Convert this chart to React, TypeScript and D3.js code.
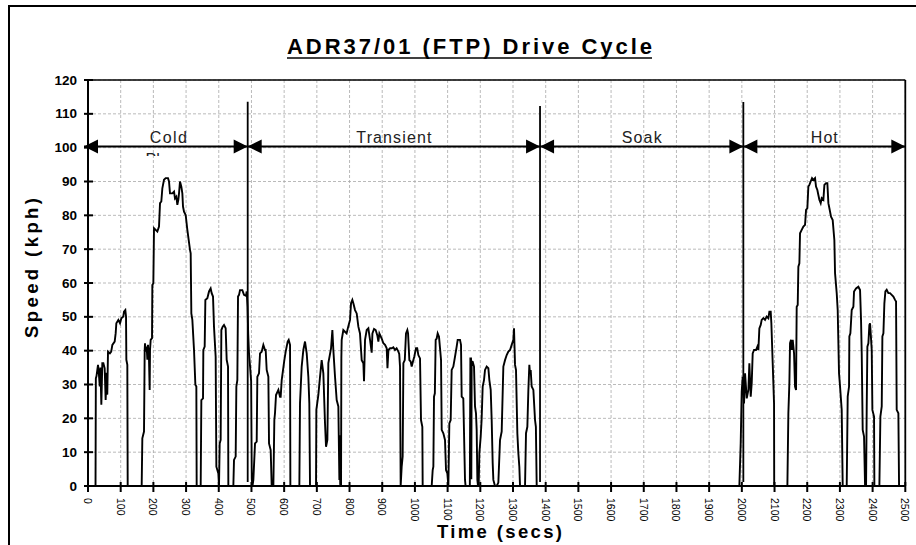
import React from "react";
import * as d3 from "d3";

// ---- data: [time (s), speed (kph)] ----
const coldPhase: [number, number][] = [
  [0, 0], [23, 0], [24, 31.8], [26, 32.5], [30.6, 35.8], [33, 33.5], [36, 29.4], [38, 35], [40.8, 24],
  [43.8, 36.3], [47, 36.3], [51, 34.8], [54, 25.4], [57, 33.5], [59, 27], [61.2, 39.7], [67, 39.2],
  [71, 39.7], [74.5, 41.7], [81.6, 42.7], [84.6, 45.1], [86.7, 48.1], [92.8, 49.1], [97.9, 48.1],
  [102, 49.6], [108, 50.1], [110.1, 51.5], [114.2, 52], [116.3, 50.1], [117.3, 37.3], [120.3, 35.8],
  [121.4, 0],
  [164.2, 0], [166.2, 14.1], [171.3, 16.1], [173.4, 40.2], [174.4, 42.2], [176.4, 39.7], [179.5, 41.2],
  [181.5, 37.3], [183.5, 41.7], [186.6, 37.3], [188.6, 28.4], [189.7, 40.2], [191.7, 43.2], [195.8, 43.7],
  [196.8, 59.4], [199.9, 59.9], [201.9, 76.2], [207, 75.7], [212.1, 75.2], [217.2, 76.7], [220.3, 83.6],
  [224.3, 84.1], [227.4, 88], [232.5, 90.5], [237.6, 91], [244.7, 91], [247.8, 90], [250.8, 86.5],
  [258, 86.5], [263.1, 87], [266.1, 85], [270.2, 85.5], [273.3, 83.1], [276.3, 84.6], [278.4, 86.5],
  [281.4, 90], [285.5, 88.5], [288.6, 86.5], [290.6, 82.6], [293.7, 81.1], [298.8, 80.1], [303.9, 75.7],
  [312, 69.8], [314.1, 68.8], [316.1, 51], [319.2, 49.1], [324.3, 40.2], [328.4, 29.9], [331.4, 29.4],
  [332.4, 0],
  [344.7, 0], [346.7, 25.4], [351.8, 25.9], [352.8, 40.2], [356.9, 41.2], [359, 55], [365.1, 55.5],
  [370.2, 57.5], [375.2, 58.4], [378.3, 57], [382.4, 56], [385.4, 47.1], [390.5, 38.2], [392.6, 5.7],
  [398.7, 3.7], [400.7, 0],
  [402.8, 12.6], [405.8, 13.6], [407.9, 46.1], [412, 47.1], [416, 47.6], [421.1, 46.6], [424.2, 37.3],
  [428.3, 35.3], [429.3, 0],
  [444.6, 0], [446.6, 7.7], [451.7, 8.7], [453.8, 29.4], [456.8, 31.3], [458.9, 56], [462, 56.5],
  [465, 57.9], [472.1, 57.9], [477.2, 56.5], [483.3, 56.2], [485.4, 57.5], [488, 53], [490, 45],
  [492.5, 39.2], [496, 35], [499, 31], [501, 2], [503, 0],
];

const transientPhase: [number, number][] = [
  [503, 0], [505.8, 1.8], [510.9, 12.6], [516, 13.1], [518, 32.3], [523.1, 33.3], [526.2, 39.2],
  [531.3, 39.7], [536.4, 41.7], [541.5, 40.2], [543.5, 40.2], [546.6, 34.3], [551.7, 32.3],
  [553.7, 12.6], [558.8, 10.6], [561.9, 0],
  [567, 0], [570, 19.5], [572, 21.5], [575.1, 26.9], [582.3, 28.4], [587.4, 26.4], [589.4, 26.4],
  [592.5, 31.3], [600.6, 37.2], [604.7, 39.7], [610.8, 42.7], [613.9, 43.2], [618, 41.7], [619, 0],
  [646.5, 0], [648.5, 24.5], [653.6, 35.3], [658.7, 40.2], [663.8, 42.7], [669, 39.2], [674, 32.3],
  [677, 24.5], [679.1, 0],
  [697.5, 0], [698.5, 22.5], [704.6, 26.9], [709.7, 32.3], [714.8, 37.2], [719.9, 33.3], [725, 18.5],
  [728.1, 11.6], [732.2, 13.6], [735.2, 36.3], [743.4, 40.7], [747.5, 46.1], [750.5, 40.2],
  [755.6, 32.3], [760.7, 25.4], [765.8, 23.5], [768.9, 1.8], [770.5, 15], [771.5, 0.5], [774, 0],
  [775, 38], [776, 43.2], [781, 46.1], [786, 45.6], [791, 45.1], [796, 47.1], [801.5, 49.1],
  [804.6, 54], [808.6, 55], [811.7, 54], [816.8, 52], [821.9, 51], [827, 47.1], [832, 45.1],
  [837.2, 37.2], [842.3, 36.3], [844.3, 31], [847.4, 43.2], [852.5, 46.1], [857.6, 46.6],
  [862.7, 43.2], [867.8, 39.4], [870, 45.1], [875, 46.4], [880, 46.1], [885, 44.5], [888.2, 42.7],
  [891.3, 45.1], [898.4, 43.6], [903.5, 42.2], [908.6, 41.7], [913.7, 40.7], [916, 34.8], [919, 40.2],
  [924, 40.7], [929, 40.7], [934, 41], [939, 40.2], [944, 40.7], [949.4, 39.7], [952, 39],
  [954.4, 35.3], [956.4, 0],
  [959.5, 5.7], [962.5, 8.7], [964.7, 36.3], [969, 37.2], [972.7, 45.1], [976.8, 46.1], [979, 45.1],
  [983, 37.2], [987, 36.8], [990.1, 35.3], [994, 36.8], [998, 38.2], [1003.3, 40.7], [1007, 40.7],
  [1010.5, 38.7], [1015.6, 37.7], [1018.6, 19.5], [1022.7, 17.5], [1023.7, 0],
  [1051.3, 0], [1054.3, 4.7], [1056.4, 5.7], [1058.4, 26.4], [1061, 27.4], [1063.5, 43.2],
  [1066.6, 43.6], [1069.6, 45.1], [1073.7, 44.1], [1076.8, 40.7], [1079.9, 37.2], [1081.9, 16.6],
  [1087, 15.6], [1092, 13.6], [1095.1, 4.7], [1099.2, 3.7], [1102.3, 0],
  [1105.3, 18.5], [1109.4, 19.5], [1112.4, 34.3], [1117.5, 35.3], [1122.6, 38.2], [1127.7, 41.2],
  [1130.8, 43.2], [1137.9, 43.2], [1141, 41.7], [1143, 26.4], [1148, 25.9], [1153.2, 1.8], [1155, 0],
  [1168, 0], [1169.6, 37.7], [1171.6, 37.7], [1172.5, 2], [1173.6, 36.8], [1176.7, 36.7],
  [1180.8, 35.3], [1183.8, 23.5], [1186.8, 21.5], [1188.9, 16.6], [1191, 1.8], [1193, 0],
  [1195, 0], [1197.1, 9.7], [1201.2, 14.6], [1204, 19.5], [1207.3, 29.4], [1211.3, 31.3],
  [1214.4, 34.3], [1219.5, 35.3], [1224.6, 34.8], [1227.7, 31.3], [1231.8, 28.4], [1234.8, 19.5],
  [1237.9, 6.7], [1239.9, 1.8], [1245, 0],
  [1250.1, 0], [1255.2, 1], [1260.3, 13.6], [1265.4, 16.1], [1270.5, 35.3], [1275.6, 37.2],
  [1280.7, 38.7], [1285.8, 39.7], [1291, 40.2], [1296, 41.7], [1301.1, 43.2], [1303.1, 46.6],
  [1306.2, 35.8], [1309.2, 34.3], [1313.3, 15.6], [1316.4, 9.7], [1319.4, 5.7], [1321.5, 0],
  [1336.8, 0], [1339.8, 15.6], [1343.9, 17.5], [1347, 28.4], [1350, 35.8], [1352, 33.3],
  [1354.1, 34.3], [1357.2, 29.4], [1362.3, 28.4], [1367.4, 19.5], [1370, 17.5], [1372.5, 0],
];

const soakPhase: [number, number][] = [[1372.5, 0], [1992.4, 0]];

const hotPhase: [number, number][] = [
  [1992.4, 0], [1996.5, 12.6], [1999.6, 27.9], [2002.6, 32.3], [2006.7, 24.4], [2009.8, 33.3],
  [2015, 25.9], [2020, 28.4], [2023, 36.3], [2027.1, 26.4], [2030.2, 30.4], [2033.2, 39.2],
  [2037.3, 40.2], [2043.4, 40.2], [2047.5, 41.2], [2050.6, 40.2], [2053.6, 46.6], [2057.7, 47.6],
  [2060.7, 49.1], [2065.8, 49.6], [2070.9, 49.1], [2076, 50.1], [2081.1, 49.6], [2084.2, 51.5],
  [2088.3, 51.5], [2090.3, 48.1], [2094.4, 36.3], [2098.5, 24.4], [2099, 0],
  [2139.3, 0], [2142.3, 21.5], [2145.4, 30.4], [2147.4, 42.2], [2150.5, 43.2], [2152.5, 40.2],
  [2155.6, 43.2], [2159.7, 39.2], [2162.7, 29.4], [2165.8, 28.4], [2166.5, 37.3], [2167.8, 53],
  [2170.9, 53.5], [2172.9, 64.8], [2176, 65.8], [2178, 74.7], [2183.1, 75.7], [2188.2, 76.7],
  [2193.3, 77.2], [2196.4, 81.6], [2200.4, 82.1], [2203.5, 88.5], [2206.6, 89], [2210.6, 90],
  [2214.7, 91], [2218.8, 90.5], [2223.9, 91], [2226.9, 88.5], [2231, 87.5], [2234.1, 86],
  [2237.1, 84.6], [2241.2, 83.6], [2244.3, 85.1], [2249.4, 84.6], [2252.5, 89], [2257.5, 89.5],
  [2261.6, 89.5], [2264.7, 83.6], [2267.8, 82.1], [2272.8, 79.6], [2277.9, 78.6], [2283, 72.7],
  [2285.1, 62.9], [2290.2, 57], [2293.2, 52], [2297.3, 33.3], [2300.4, 29.4], [2305.5, 22.5],
  [2308.5, 0],
  [2320.8, 0], [2323.8, 26.4], [2327.9, 29.4], [2328.9, 44.2], [2332, 45.1], [2336.1, 52],
  [2341.2, 53], [2343.2, 57.5], [2349.3, 58.4], [2356.4, 58.9], [2361.6, 57.9], [2364.6, 49.1],
  [2366.7, 39.2], [2369.7, 16.6], [2373.8, 14.6], [2376.9, 0],
  [2380, 0], [2382, 23.5], [2384, 41.2], [2387.1, 42.2], [2390.1, 47.6], [2392.2, 48.1],
  [2394.2, 45.1], [2397.3, 40.2], [2399.3, 22.5], [2404.4, 20.5], [2405.4, 0],
  [2420.7, 0], [2423.8, 20.5], [2427.9, 23.5], [2429.9, 44.2], [2433, 45.1], [2436, 54],
  [2439.1, 57.5], [2443.1, 58], [2448.2, 57], [2453.3, 57], [2458.4, 56.5], [2463.5, 56],
  [2468.6, 55], [2471.7, 54.5], [2473.7, 22.5], [2478.8, 21.5], [2480.9, 0],
];

const xTickValues = [0, 100, 200, 300, 400, 500, 600, 700, 800, 900, 1000, 1100, 1200, 1300, 1400,
  1500, 1600, 1700, 1800, 1900, 2000, 2100, 2200, 2300, 2400, 2500];
const yTickValues = [0, 10, 20, 30, 40, 50, 60, 70, 80, 90, 100, 110, 120];

const phaseNames = ["Cold", "Transient", "Soak", "Hot"];
const phaseBounds = [0, 488.5, 1382.7, 2004.6, 2500];
const separatorTops = [101.7, 106, 102];
const phaseLabelWidths = [37, 75, 40, 27];

const title = "ADR37/01 (FTP) Drive Cycle";
const xLabel = "Time (secs)";
const yLabel = "Speed (kph)";

const W = 916;
const H = 545;
const FONT = "'Liberation Sans', Arial, sans-serif";

export default function App() {
  const x = d3.scaleLinear().domain([0, 2500]).range([88, 905.3]);
  const y = d3.scaleLinear().domain([0, 120]).range([486, 80]);
  const line = d3
    .line<[number, number]>()
    .x((d) => x(d[0]))
    .y((d) => y(d[1]));
  const allData = [...coldPhase, ...transientPhase.slice(1), ...soakPhase.slice(1), ...hotPhase.slice(1)];

  const arrowY = 146.5;
  const head = (tipX: number, dir: number) =>
    `M${tipX},${arrowY} L${tipX - dir * 14},${arrowY - 7} L${tipX - dir * 14},${arrowY + 7} Z`;

  return (
    <div style={{ position: "absolute", left: 0, top: 0 }}>
      <svg width={W} height={H} style={{ display: "block", background: "#fff" }} fontFamily={FONT}>
        <defs>
          <clipPath id="phaseClip">
            <rect x={130} y={151} width={80} height={5} />
          </clipPath>
        </defs>
        {/* outer chart border */}
        <rect x={9} y={6} width={1000} height={1000} fill="none" stroke="#000" strokeWidth={2} />

        {/* title */}
        <text x={469.5} y={54} textAnchor="middle" fontSize={22} fontWeight="bold" textLength={365}
          lengthAdjust="spacing">{title}</text>
        <line x1={287} x2={652} y1={58} y2={58} stroke="#000" strokeWidth={1.6} />

        {/* grid */}
        {xTickValues.map((t) => (
          <line key={"gx" + t} x1={x(t)} x2={x(t)} y1={y(120)} y2={y(0)} stroke="#a8a8a8"
            strokeWidth={0.8} strokeDasharray="3,2" />
        ))}
        {yTickValues.map((v) => (
          <line key={"gy" + v} x1={x(0)} x2={x(2500)} y1={y(v)} y2={y(v)} stroke="#a8a8a8"
            strokeWidth={0.8} strokeDasharray="3,2" />
        ))}

        {/* plot border top/right */}
        <line x1={x(0)} x2={x(2500)} y1={y(120)} y2={y(120)} stroke="#000" strokeWidth={1.6} />
        <line x1={x(2500)} x2={x(2500)} y1={y(120)} y2={y(0)} stroke="#000" strokeWidth={1.8} />

        {/* data */}
        <path d={line(allData) || ""} fill="none" stroke="#000" strokeWidth={1.9} />

        {/* phase separators */}
        {phaseBounds.slice(1, 4).map((b, i) => (
          <line key={"sep" + i} x1={x(b)} x2={x(b)} y1={separatorTops[i]} y2={482} stroke="#000"
            strokeWidth={1.8} />
        ))}

        {/* phase arrows */}
        {phaseNames.map((name, i) => {
          const x0 = i === 0 ? x(phaseBounds[0]) - 4 : x(phaseBounds[i]);
          const x1 = x(phaseBounds[i + 1]);
          return (
            <g key={"ph" + name}>
              <line x1={x0} x2={x1} y1={arrowY} y2={arrowY} stroke="#000" strokeWidth={2} />
              <path d={head(x0, -1)} fill="#000" />
              <path d={head(x1, 1)} fill="#000" />
            </g>
          );
        })}
        {phaseNames.map((name, i) => {
          const cx = i === 0 ? 168.3 : (x(phaseBounds[i]) + x(phaseBounds[i + 1])) / 2;
          return (
            <text key={"pl" + name} x={cx} y={143} textAnchor="middle" fontSize={16} fill="#222"
              textLength={phaseLabelWidths[i]} lengthAdjust="spacing">{name}</text>
          );
        })}
        <text x={168.3} y={165} textAnchor="middle" fontSize={16} fill="#222" clipPath="url(#phaseClip)">
          Phase
        </text>

        {/* axes */}
        <line x1={x(0)} x2={x(0)} y1={y(120)} y2={y(0)} stroke="#000" strokeWidth={2} />
        <line x1={x(0)} x2={x(2500)} y1={y(0)} y2={y(0)} stroke="#000" strokeWidth={2} />
        {yTickValues.map((v) => (
          <g key={"yt" + v}>
            <line x1={84} x2={93} y1={y(v)} y2={y(v)} stroke="#000" strokeWidth={2} />
            <text x={77} y={y(v)} textAnchor="end" dominantBaseline="central" fontSize={13.5}
              fontWeight="bold">{v}</text>
          </g>
        ))}
        {xTickValues.map((t) => (
          <g key={"xt" + t}>
            <line x1={x(t)} x2={x(t)} y1={482} y2={492} stroke="#000" strokeWidth={2} />
            <text transform={`translate(${x(t)},498) rotate(90)`} textAnchor="start"
              dominantBaseline="central" fontSize={10.5}>{t}</text>
          </g>
        ))}

        {/* axis titles */}
        <text x={499.5} y={538} textAnchor="middle" fontSize={18.5} fontWeight="bold" textLength={125}
          lengthAdjust="spacing">{xLabel}</text>
        <text transform="translate(38,268) rotate(-90)" textAnchor="middle" fontSize={18.5} fontWeight="bold"
          textLength={140} lengthAdjust="spacing">{yLabel}</text>
      </svg>
    </div>
  );
}
